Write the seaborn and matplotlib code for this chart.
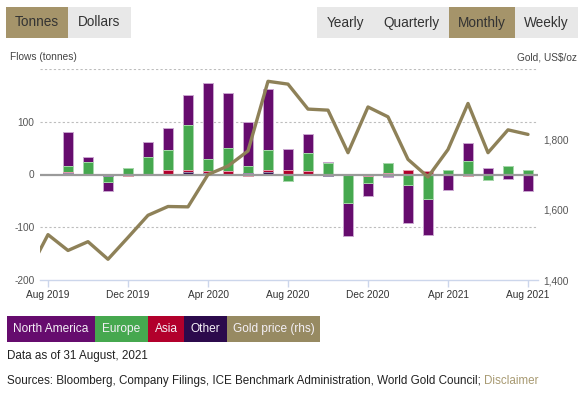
import numpy as np
import pandas as pd
import matplotlib
matplotlib.use("Agg")
import matplotlib.pyplot as plt
import seaborn as sns
from matplotlib.patches import Rectangle

# ---------------- data ----------------
months = ["Jul 2019", "Aug 2019", "Sep 2019", "Oct 2019", "Nov 2019", "Dec 2019",
          "Jan 2020", "Feb 2020", "Mar 2020", "Apr 2020", "May 2020", "Jun 2020",
          "Jul 2020", "Aug 2020", "Sep 2020", "Oct 2020", "Nov 2020", "Dec 2020",
          "Jan 2021", "Feb 2021", "Mar 2021", "Apr 2021", "May 2021", "Jun 2021",
          "Jul 2021", "Aug 2021"]
north_america = [0, 0, 63, 10, -17, 0, 28, 42, 57, 145, 103, 83, 117, 40, 35, 2,
                 -62, -24, -3, -71, -68, -30, 34, 12, -7, -31]
europe = [0, 0, 12, 24, -12, 13, 34, 38, 84, 22, 44, 13, 38, -13, 35, 22,
          -53, -14, 19, -20, -46, 8, 26, -11, 17, 9]
asia = [0, 0, 3, 0, 0, -2, 0, 7, 5, 5, 6, -2, 4, 8, 6, 0,
        -1, -1, 3, 9, 6, 0, -2, 1, 0, -1]
other = [0, 0, 2, 0, -3, 0, -1, 1, 4, 2, 1, 3, 4, 0, 0, -2,
         0, -1, -2, 0, 0, 0, 0, 0, -1, 0]
gold_price = [1420, 1529, 1484, 1509, 1459, 1521, 1584, 1609, 1608, 1700, 1724, 1767,
              1965, 1957, 1886, 1883, 1762, 1892, 1864, 1743, 1693, 1771, 1902, 1762,
              1827, 1814]
tick_months = ["Aug 2019", "Dec 2019", "Apr 2020", "Aug 2020", "Dec 2020", "Apr 2021", "Aug 2021"]
left_ticks = [-200, -100, 0, 100]
left_labels = ["-200", "-100", "0", "100"]
left_grid = [200, 100, -100]
right_ticks = [1400, 1600, 1800]
right_labels = ["1,400", "1,600", "1,800"]

series_names = ["Other", "Asia", "Europe", "North America"]  # stacking order from zero
series_vals = [other, asia, europe, north_america]
colors = {"North America": "#660c6e", "Europe": "#46a84f", "Asia": "#b2002c", "Other": "#2c0a4c"}
edge_colors = {"North America": "#c9a6cf", "Europe": "#a6d9aa", "Asia": "#e3a0b0", "Other": "#9d8fb0"}
gold_color = "#8e8158"

# ---------------- figure ----------------
sns.set_theme(style="white")
plt.rcParams["font.family"] = ["Liberation Sans", "DejaVu Sans"]

W, H = 585, 393
fig = plt.figure(figsize=(W / 100, H / 100), dpi=100)
ax = fig.add_axes([40 / W, 1 - 280 / H, (538 - 40) / W, (280 - 69) / H])

arr = np.array(series_vals, dtype=float)
pos = np.clip(arr, 0, None).cumsum(axis=0)
neg = np.clip(arr, None, 0).cumsum(axis=0)

# draw outermost cumulative first, inner layers on top -> stacked look
for k in range(len(series_names) - 1, -1, -1):
    name = series_names[k]
    for cum in (pos[k], neg[k]):
        df = pd.DataFrame({"month": months, "value": cum})
        sns.barplot(data=df, x="month", y="value", order=months, color=colors[name],
                    saturation=1, width=0.5, errorbar=None, ax=ax,
                    edgecolor=edge_colors[name], linewidth=0.7, zorder=3)

for g in left_grid:
    ax.axhline(g, linestyle=(0, (2, 2)), color="#bdbdbd", lw=0.8, zorder=1)
ax.axhline(0, color="#9a9a9a", lw=1.6, zorder=5)
ax.set_ylim(-200, 200)
ax.set_xlim(0.6, 25.5)
ax.set_yticks(left_ticks)
ax.set_yticklabels(left_labels)
ax.set_xticks([months.index(m) for m in tick_months])
ax.set_xticklabels(tick_months)
ax.set_xlabel("")
ax.set_ylabel("")
ax.grid(False)
for s in ["top", "right", "left"]:
    ax.spines[s].set_visible(False)
ax.spines["bottom"].set_color("#ccd6eb")
ax.spines["bottom"].set_linewidth(1)
ax.tick_params(axis="x", bottom=True, length=5, width=1, color="#ccd6eb",
               labelsize=7.3, labelcolor="#333333", pad=2)
ax.tick_params(axis="y", left=False, length=0, labelsize=7.3, labelcolor="#555555", pad=4)

ax2 = ax.twinx()
sns.lineplot(x=np.arange(len(months)), y=gold_price, ax=ax2, color=gold_color, lw=2.4)
ax2.set_ylim(1400, 2000)
ax2.set_xlim(0.6, 25.5)
ax2.set_yticks(right_ticks)
ax2.set_yticklabels(right_labels)
ax2.set_ylabel("")
ax2.grid(False)
for s in ax2.spines.values():
    s.set_visible(False)
ax2.tick_params(axis="y", right=False, left=False, length=0, labelsize=7.3,
                labelcolor="#555555", pad=4)

# axis titles
fig.text(10 / W, 1 - 57 / H, "Flows (tonnes)", fontsize=7.3, color="#444444", va="center", ha="left")
fig.text(577 / W, 1 - 57 / H, "Gold, US\\$/oz", fontsize=7.3, color="#444444", va="center", ha="right")

# buttons
def button(x0, x1, y0, y1, label, active):
    fc = "#a5946a" if active else "#e8e8e8"
    fig.add_artist(Rectangle((x0 / W, 1 - y1 / H), (x1 - x0) / W, (y1 - y0) / H,
                             transform=fig.transFigure, facecolor=fc, edgecolor="none"))
    fig.text((x0 + x1) / 2 / W, 1 - (y0 + y1) / 2 / H, label, fontsize=9.8,
             color="#333333", ha="center", va="center")

button(6, 68, 7, 38, "Tonnes", True)
button(68, 131, 7, 38, "Dollars", False)
button(317, 374, 7, 38, "Yearly", False)
button(374, 449, 7, 38, "Quarterly", False)
button(449, 515, 7, 38, "Monthly", True)
button(515, 578, 7, 38, "Weekly", False)

# legend boxes
legend_items = [("North America", colors["North America"], 7, 95),
                ("Europe", colors["Europe"], 95, 148),
                ("Asia", colors["Asia"], 148, 184),
                ("Other", colors["Other"], 184, 227),
                ("Gold price (rhs)", "#978a62", 227, 320)]
for label, c, x0, x1 in legend_items:
    fig.add_artist(Rectangle((x0 / W, 1 - 342 / H), (x1 - x0) / W, (342 - 316) / H,
                             transform=fig.transFigure, facecolor=c, edgecolor="none"))
    fig.text((x0 + x1) / 2 / W, 1 - 329 / H, label, fontsize=8.6, color="#f4f0f6",
             ha="center", va="center")

fig.text(7 / W, 1 - 356 / H, "Data as of 31 August, 2021", fontsize=8.4, color="#222222",
         ha="left", va="center")
t = fig.text(7 / W, 1 - 381 / H, "Sources: Bloomberg, Company Filings, ICE Benchmark Administration, World Gold Council; ",
             fontsize=8.4, color="#222222", ha="left", va="center")
fig.canvas.draw()
bb = t.get_window_extent()
fig.text(bb.x1 / W, 1 - 381 / H, "Disclaimer", fontsize=8.4, color="#a89a72", ha="left", va="center")

fig.savefig("out.png", dpi=100)
